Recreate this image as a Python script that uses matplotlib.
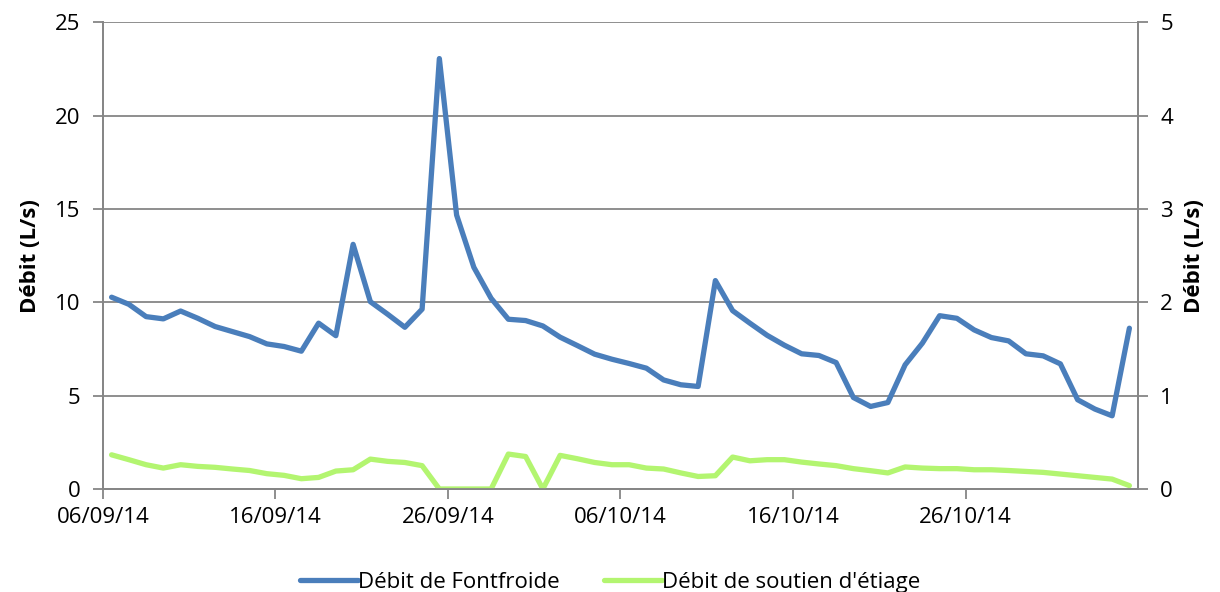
import datetime as dt
import matplotlib
matplotlib.use("Agg")
import matplotlib.pyplot as plt
import matplotlib.dates as mdates

# daily values, 06/09/14 -> 04/11/14
start = dt.datetime(2014, 9, 6)
fontfroide = [10.27, 9.89, 9.23, 9.11, 9.53, 9.14, 8.70, 8.43, 8.16, 7.77,
              7.63, 7.38, 8.88, 8.21, 13.1, 10.03, 9.36, 8.66, 9.63, 23.05,
              14.67, 11.87, 10.21, 9.09, 9.02, 8.73, 8.13, 7.68, 7.22, 6.95,
              6.72, 6.47, 5.84, 5.58, 5.49, 11.16, 9.55, 8.88, 8.23, 7.70,
              7.24, 7.15, 6.77, 4.90, 4.42, 4.63, 6.65, 7.81, 9.28, 9.14,
              8.52, 8.11, 7.93, 7.24, 7.13, 6.70, 4.78, 4.28, 3.92, 8.61]
# soutien d'etiage, right axis (L/s)
soutien = [0.366, 0.314, 0.260, 0.224, 0.260, 0.242, 0.232, 0.214, 0.198, 0.164,
           0.146, 0.110, 0.124, 0.192, 0.206, 0.320, 0.296, 0.284, 0.250, 0.0,
           0.0, 0.0, 0.0, 0.374, 0.348, 0.0, 0.360, 0.324, 0.284, 0.260,
           0.260, 0.224, 0.214, 0.172, 0.134, 0.142, 0.342, 0.302, 0.314, 0.314,
           0.288, 0.268, 0.250, 0.218, 0.196, 0.172, 0.236, 0.224, 0.218, 0.218,
           0.206, 0.206, 0.198, 0.188, 0.178, 0.160, 0.142, 0.124, 0.106, 0.036]
days = [start + dt.timedelta(days=i, hours=12) for i in range(len(fontfroide))]
xticks = [start + dt.timedelta(days=10 * k) for k in range(6)]

plt.rcParams['font.family'] = ['Open Sans', 'DejaVu Sans']
grey = '#868686'
fs = 16

fig = plt.figure(figsize=(12.2, 5.92), dpi=100)
ax = fig.add_axes([0.0844, 0.174, 0.8484, 0.7886])
ax2 = ax.twinx()

l1, = ax.plot(days, fontfroide, color='#4A7EBB', lw=3.8, solid_joinstyle='round',
              solid_capstyle='round', label='Débit de Fontfroide', zorder=3)
l2, = ax2.plot(days, soutien, color='#B3F570', lw=3.8, solid_joinstyle='round',
               solid_capstyle='round', label="Débit de soutien d'étiage")

ax.set_xlim(start, start + dt.timedelta(days=60))
ax.set_ylim(0, 25)
ax2.set_ylim(0, 5)
ax.set_yticks(range(0, 26, 5))
ax2.set_yticks(range(0, 6))
ax.set_xticks(xticks)
ax.xaxis.set_major_formatter(mdates.DateFormatter('%d/%m/%y'))

ax.yaxis.grid(True, color=grey, lw=1.3)
ax.set_axisbelow(True)
for a in (ax, ax2):
    a.spines['top'].set_visible(False)
    for s in ('left', 'right', 'bottom'):
        a.spines[s].set_color(grey)
        a.spines[s].set_linewidth(1.3)
    a.tick_params(colors=grey, labelcolor='black', labelsize=fs, width=1.3, length=7)
ax.tick_params(axis='x', pad=6)
ax.tick_params(axis='y', pad=9)
ax2.tick_params(axis='y', pad=9)

ax.set_ylabel('Débit (L/s)', fontsize=fs, fontweight='bold', labelpad=10)
ax2.set_ylabel('Débit (L/s)', fontsize=fs, fontweight='bold', labelpad=8)

fig.legend(handles=[l1, l2], loc='lower center', bbox_to_anchor=(0.5, -0.035), ncol=2,
           frameon=False, fontsize=fs, handlelength=2.6, handletextpad=0.0,
           columnspacing=2.0)

fig.savefig('out.png', dpi=100)
